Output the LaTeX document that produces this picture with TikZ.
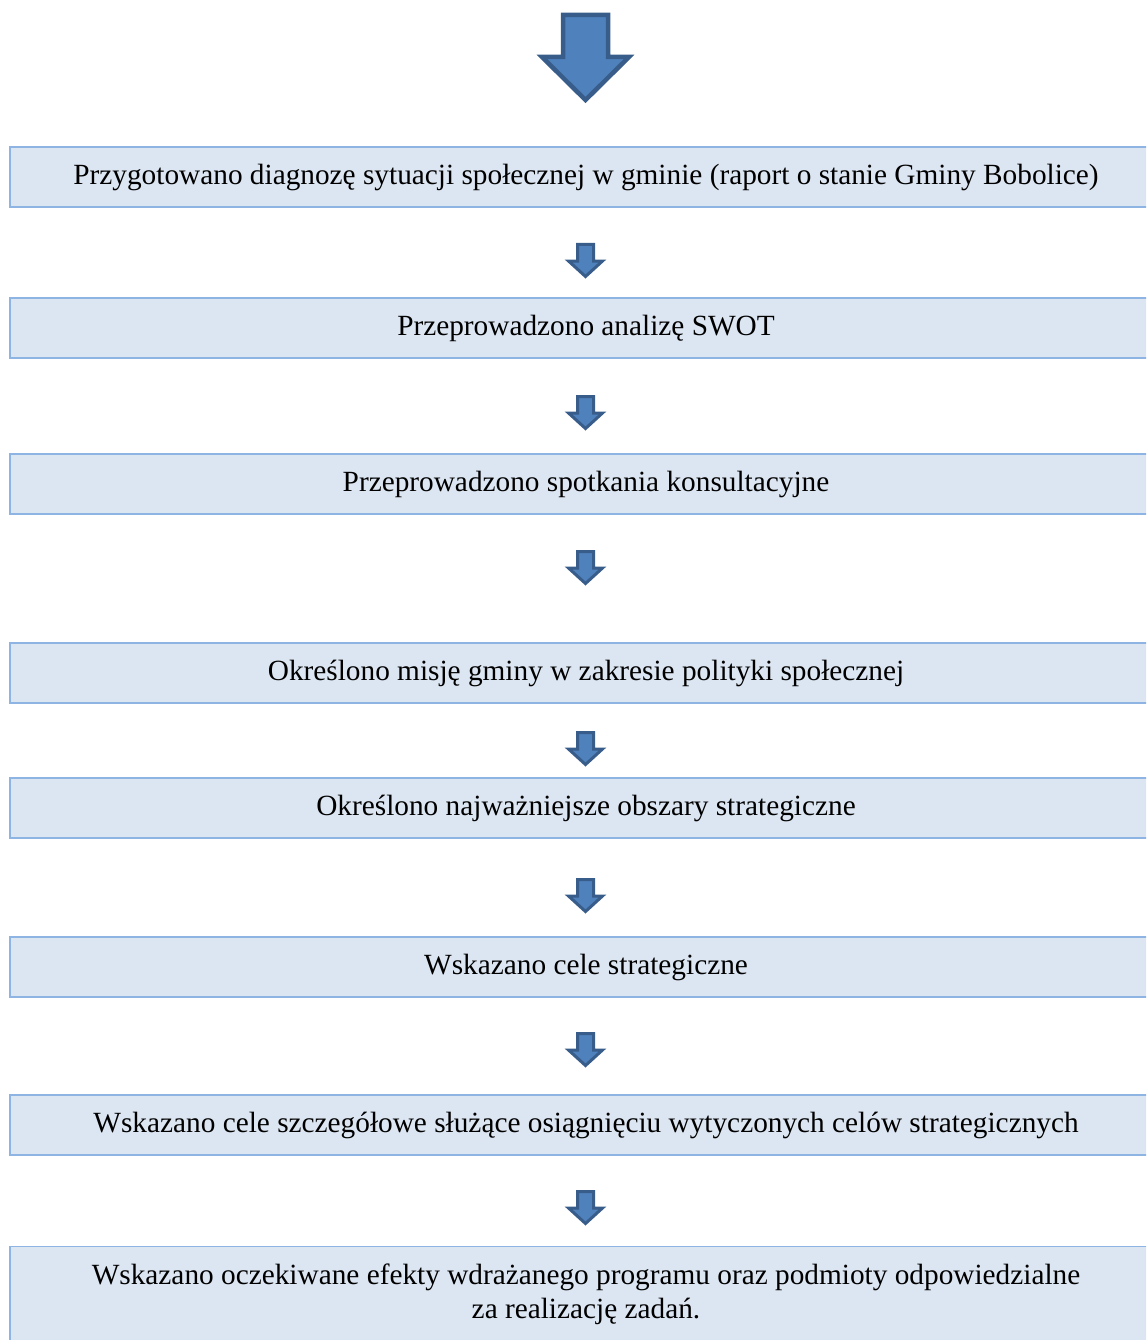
\documentclass[tikz,border=0pt]{standalone}
\usepackage{fontspec}
\setmainfont{Liberation Serif}
\usetikzlibrary{positioning}

\definecolor{boxfill}{HTML}{DCE6F2}
\definecolor{boxline}{HTML}{8EB4E3}
\definecolor{arrfill}{HTML}{4F81BD}
\definecolor{arrline}{HTML}{385D8A}

\tikzset{
  etap/.style={rectangle,draw=boxline,fill=boxfill,line width=1.2pt,
               minimum width=1152pt,minimum height=60pt,inner sep=0pt,
               align=center,font=\fontsize{29.3}{34}\selectfont},
  strzalka/.style={fill=arrfill,draw=arrline,line width=3pt,line join=miter},
  pics/wdol/.style={code={
      \draw[strzalka] (-8,1.5) -- (8,1.5) -- (8,18) -- (17,18) -- (0,33.5)
                      -- (-17,18) -- (-8,18) -- cycle;
  }}
}

\begin{document}
\begin{tikzpicture}[x=1pt,y=-1pt]

            % \draw [help lines] (0,0) grid (1146,1340);
            \useasboundingbox (0,0) rectangle (1146,1340);
            \clip (0,0) rectangle (1146,1340);

            % duza strzalka na gorze
            \draw[strzalka,line width=4.5pt] (563,15) -- (608,15) -- (608,57) -- (629,57)
                    -- (585.5,100) -- (542,57) -- (563,57) -- cycle;

            \path   (586,177) node (a) [etap] {Przygotowano diagnozę sytuacji społecznej w gminie (raport o stanie Gminy Bobolice)}
                    (586,328) node (b) [etap] {Przeprowadzono analizę SWOT}
                    (586,484) node (c) [etap] {Przeprowadzono spotkania konsultacyjne}
                    (586,673) node (d) [etap] {Określono misję gminy w zakresie polityki społecznej}
                    (586,808) node (e) [etap] {Określono najważniejsze obszary strategiczne}
                    (586,967) node (f) [etap] {Wskazano cele strategiczne}
                    (586,1125) node (g) [etap] {Wskazano cele szczegółowe służące osiągnięciu wytyczonych celów strategicznych}
                    (586,1246) node (h) [etap,anchor=north,minimum height=124pt]
                    {Wskazano oczekiwane efekty wdrażanego programu oraz podmioty odpowiedzialne\\za realizację zadań.\\\mbox{}};

            \path   (585.5,243) pic {wdol}
                    (585.5,395) pic {wdol}
                    (585.5,550) pic {wdol}
                    (585.5,731) pic {wdol}
                    (585.5,878) pic {wdol}
                    (585.5,1032) pic {wdol}
                    (585.5,1190) pic {wdol};

\end{tikzpicture}
\end{document}
